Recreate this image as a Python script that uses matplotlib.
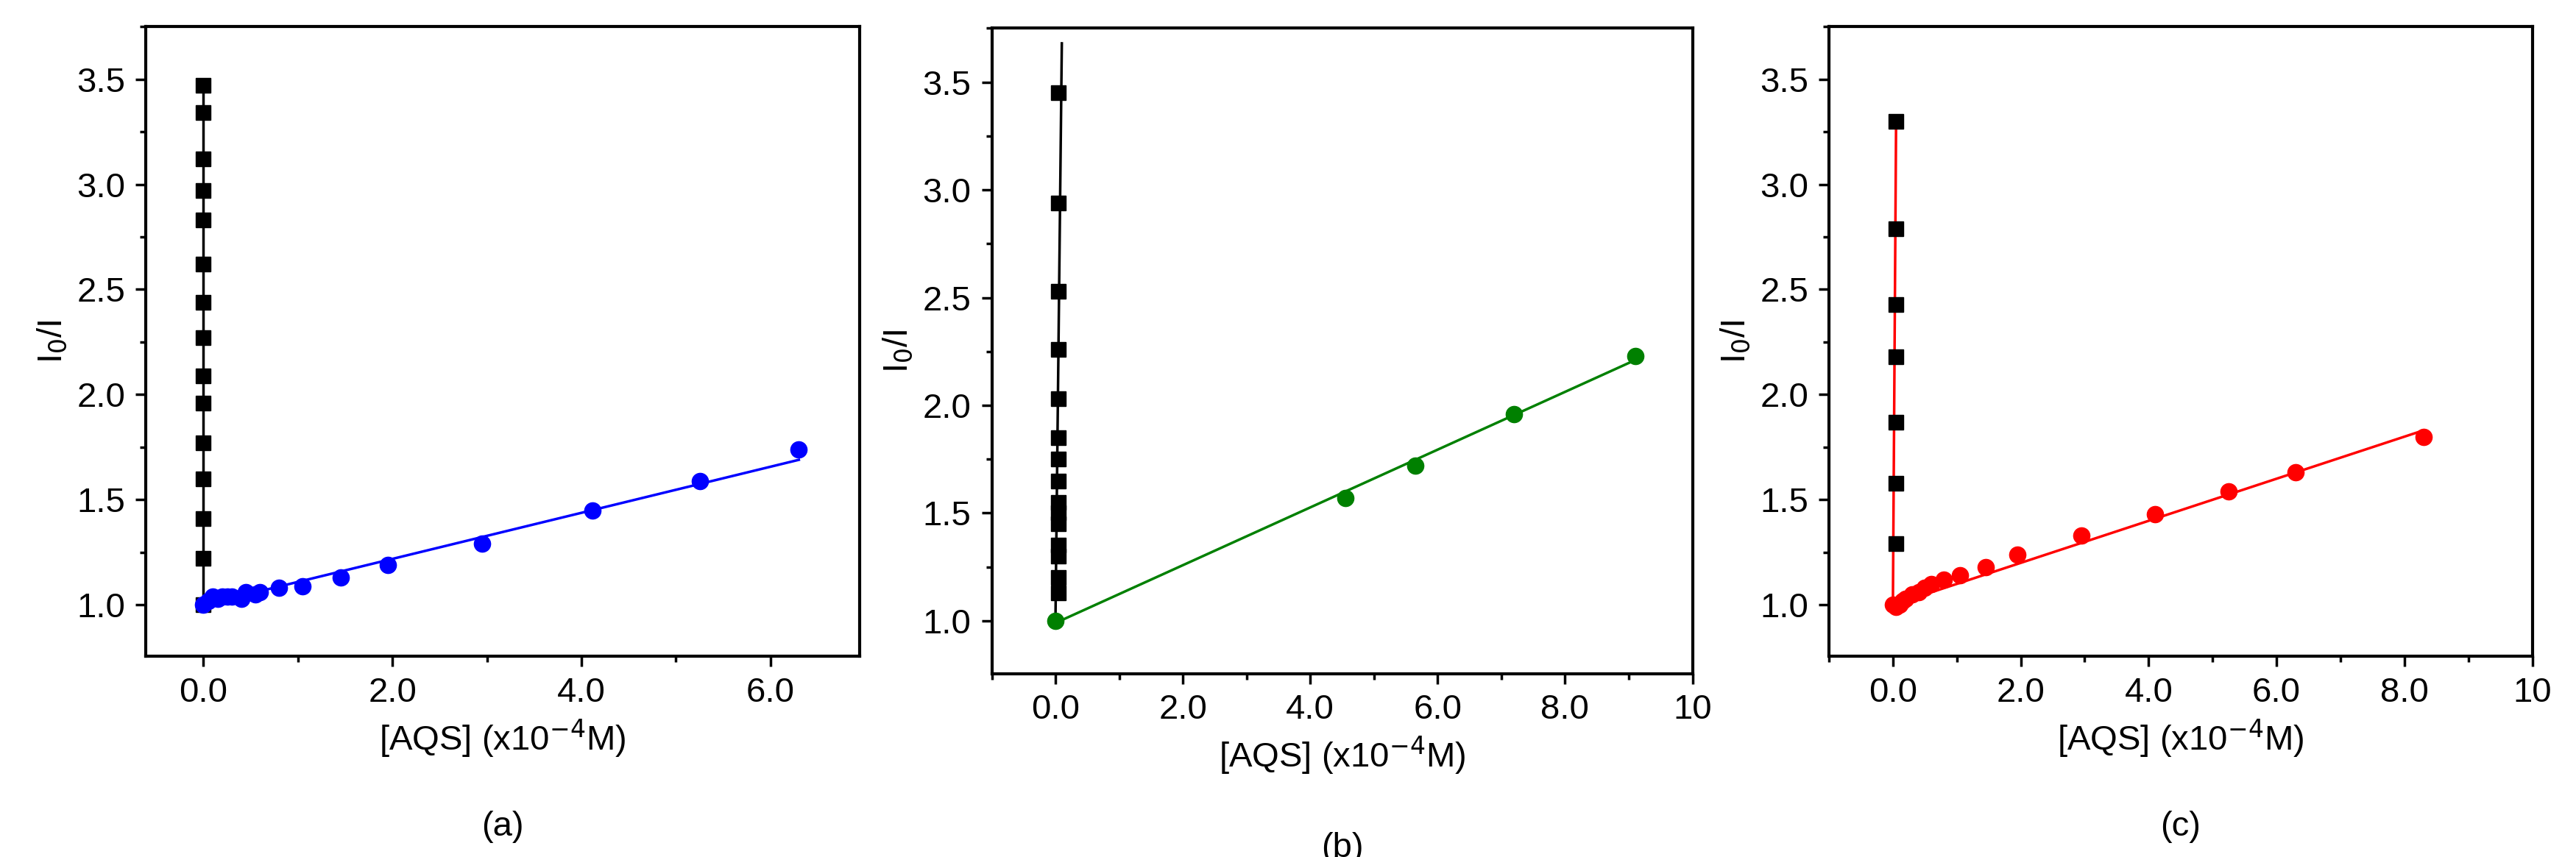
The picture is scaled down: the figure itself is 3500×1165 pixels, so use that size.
import matplotlib.pyplot as plt
from matplotlib.ticker import AutoMinorLocator

plt.rcParams['font.family'] = ['Liberation Sans', 'DejaVu Sans']

# panel (a)
a_sq_x = [0.0] * 15
a_sq_y = [1.0, 1.22, 1.41, 1.6, 1.77, 1.96, 2.09, 2.27, 2.44, 2.62, 2.83, 2.97, 3.12, 3.34, 3.47]
a_sq_fit_x = [0.0, 0.0]
a_sq_fit_y = [1.0, 3.47]
a_ci_x = [0, 0.05, 0.1, 0.15, 0.2, 0.25, 0.3, 0.4, 0.45, 0.55, 0.6, 0.8, 1.05, 1.45, 1.95, 2.95, 4.12, 5.25, 6.3]
a_ci_y = [1.0, 1.02, 1.04, 1.03, 1.04, 1.04, 1.04, 1.03, 1.06, 1.05, 1.06, 1.08, 1.09, 1.13, 1.19, 1.29, 1.45, 1.59, 1.74]
a_fit_x = [0.0, 6.3]
a_fit_y = [1.0, 1.69]

# panel (b)
b_sq_x = [0.05] * 15
b_sq_y = [1.13, 1.2, 1.3, 1.35, 1.45, 1.5, 1.55, 1.65, 1.75, 1.85, 2.03, 2.26, 2.53, 2.94, 3.45]
b_sq_fit_x = [0.0, 0.1]
b_sq_fit_y = [1.0, 3.68]
b_ci_x = [0, 4.55, 5.65, 7.2, 9.1]
b_ci_y = [1.0, 1.57, 1.72, 1.96, 2.23]
b_fit_x = [0.0, 9.1]
b_fit_y = [0.99, 2.21]

# panel (c)
c_sq_x = [0.05] * 7
c_sq_y = [1.29, 1.58, 1.87, 2.18, 2.43, 2.79, 3.3]
c_sq_fit_x = [0.0, 0.05]
c_sq_fit_y = [1.0, 3.3]
c_ci_x = [0, 0.05, 0.1, 0.15, 0.2, 0.3, 0.4, 0.5, 0.6, 0.8, 1.05, 1.45, 1.95, 2.95, 4.1, 5.25, 6.3, 8.3]
c_ci_y = [1.0, 0.99, 1.0, 1.02, 1.03, 1.05, 1.06, 1.08, 1.1, 1.12, 1.14, 1.18, 1.24, 1.33, 1.43, 1.54, 1.63, 1.8]
c_fit_x = [0.0, 8.3]
c_fit_y = [1.0, 1.83]

fig = plt.figure(figsize=(35, 11.65), dpi=100)

panels = [
    ([0.0566, 0.234, 0.277, 0.735], (-0.61, 6.94), [0, 2, 4, 6], 'black', 'blue',
     a_sq_x, a_sq_y, a_sq_fit_x, a_sq_fit_y, a_ci_x, a_ci_y, a_fit_x, a_fit_y, '(a)'),
    ([0.385, 0.214, 0.272, 0.753], (-1, 10), [0, 2, 4, 6, 8, 10], 'black', 'green',
     b_sq_x, b_sq_y, b_sq_fit_x, b_sq_fit_y, b_ci_x, b_ci_y, b_fit_x, b_fit_y, '(b)'),
    ([0.710, 0.234, 0.273, 0.735], (-1, 10), [0, 2, 4, 6, 8, 10], 'red', 'red',
     c_sq_x, c_sq_y, c_sq_fit_x, c_sq_fit_y, c_ci_x, c_ci_y, c_fit_x, c_fit_y, '(c)'),
]

for (rect, xlim, xt, sqline, cicol, sx, sy, sfx, sfy, cx, cy, fx, fy, lab) in panels:
    ax = fig.add_axes(rect)
    ax.plot(sfx, sfy, color=sqline, lw=2.5, zorder=2)
    ax.plot(sx, sy, 's', color='black', ms=14, zorder=3)
    ax.plot(fx, fy, color=cicol, lw=2.5, zorder=2)
    ax.plot(cx, cy, 'o', color=cicol, ms=16, zorder=3)
    ax.set_xlim(*xlim)
    ax.set_ylim(0.755, 3.75)
    ax.set_xticks(xt)
    ax.set_xticklabels(['10' if v == 10 else f'{v:.1f}' for v in xt])
    ax.set_yticks([1.0, 1.5, 2.0, 2.5, 3.0, 3.5])
    ax.set_yticklabels(['1.0', '1.5', '2.0', '2.5', '3.0', '3.5'])
    ax.xaxis.set_minor_locator(AutoMinorLocator(2))
    ax.yaxis.set_minor_locator(AutoMinorLocator(2))
    ax.tick_params(which='major', direction='out', length=10, width=2.5, labelsize=34, pad=10)
    ax.tick_params(which='minor', direction='out', length=6, width=2.5)
    for s in ax.spines.values():
        s.set_linewidth(3)
    ax.set_xlabel('[AQS] (x10$^{-4}$M)', fontsize=34, labelpad=8)
    ax.set_ylabel('I$_0$/I', fontsize=34, labelpad=8)
    ax.text(0.5, -0.27, lab, transform=ax.transAxes, ha='center', va='center', fontsize=34)

fig.savefig('out.png', dpi=100)
